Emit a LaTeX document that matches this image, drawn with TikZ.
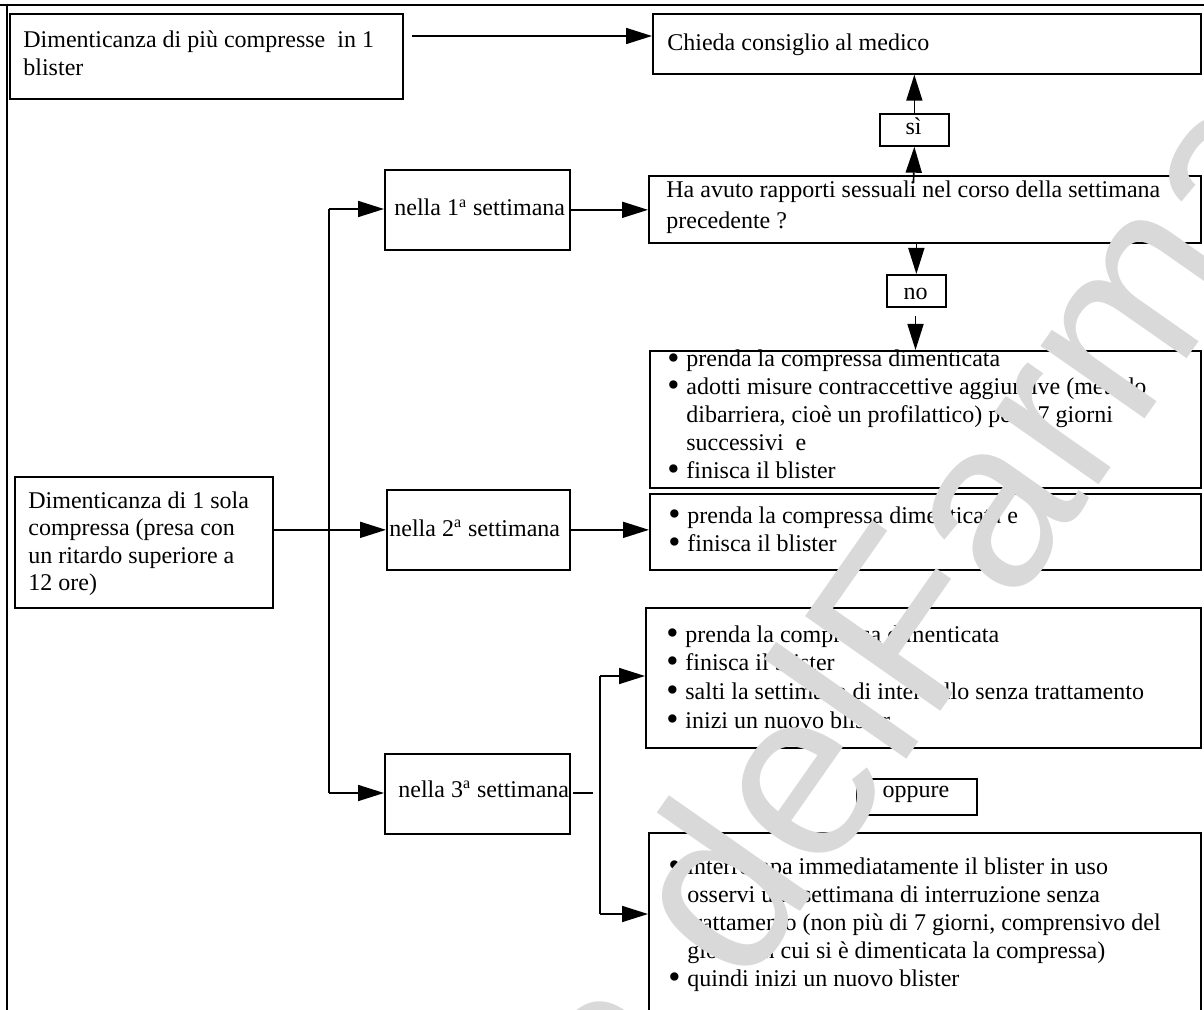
\documentclass[tikz,border=0pt]{standalone}
\usepackage{fontspec}
\usepackage{graphicx}
\setmainfont{Liberation Serif}
\newfontfamily\wmfont{Liberation Sans}
\usetikzlibrary{arrows.meta}
\newcommand\bul{\makebox[9.5pt][l]{\raisebox{-1.1pt}{\scalebox{1.45}{\textbullet}}}}
\newcommand\ind{\hspace*{9.5pt}}
\begin{document}
\begin{tikzpicture}[x=0.5pt,y=-0.5pt,
  box/.style={draw, line width=0.85pt, inner sep=0pt, anchor=north west},
  txt/.style={inner sep=0pt, anchor=base west},
  ctxt/.style={inner sep=0pt, anchor=base},
  wm/.style={inner sep=0pt, rotate=55, text=black!15, font=\wmfont\fontsize{120}{120}\selectfont},
  arr/.style={line width=0.85pt, -{Triangle[length=13pt,width=8pt]}},
  ln/.style={line width=0.85pt}]
\useasboundingbox (0,0) rectangle (1204,1010);
\clip (0,0) rectangle (1204,1010);
\fontsize{12}{13.8}\selectfont
% frame
\draw[line width=1pt] (0,5) -- (1204,5);
\draw[line width=0.7pt] (7,5) -- (7,1010);
% boxes
\node[box, minimum width=196.5pt, minimum height=42.5pt] (A) at (9,13) {};
\node[box, minimum width=274pt, minimum height=30pt] (B) at (652,13) {};
\node[box, minimum width=34.5pt, minimum height=16pt] (si) at (879,113) {};
\node[box, minimum width=92.5pt, minimum height=40pt] (n1) at (384,169) {};
\node[box, minimum width=276pt, minimum height=33.5pt] (Ha) at (648,175) {};
\node[box, minimum width=29.5pt, minimum height=16pt] (no) at (886,274) {};
\node[box, minimum width=275.5pt, minimum height=68.5pt] (b1) at (649,350) {};
\node[box, minimum width=129pt, minimum height=65.5pt] (sola) at (14,476) {};
\node[box, minimum width=91.5pt, minimum height=40pt] (n2) at (386,489) {};
\node[box, minimum width=275.5pt, minimum height=38pt] (b2) at (649,493) {};
\node[box, minimum width=277.5pt, minimum height=70pt] (b3) at (645,607) {};
\node[box, minimum width=60pt, minimum height=18pt] (opp) at (856,778) {};
\node[box, minimum width=92.5pt, minimum height=40pt] (n3) at (384,753) {};
\node[box, minimum width=276pt, minimum height=100pt] (b4) at (648,832) {};
% texts
\node[txt] (tA) at (23,48) {\fontsize{12}{14}\selectfont\begin{tabular}[t]{@{}l@{}}Dimenticanza di più compresse~ in 1\\blister\end{tabular}};
\node[txt] (tB) at (667,51) {Chieda consiglio al medico};
\node[ctxt] (tsi) at (913.5,135) {sì};
\node[txt] (tHa) at (666,198) {\fontsize{12}{15.3}\selectfont\begin{tabular}[t]{@{}l@{}}Ha avuto rapporti sessuali nel corso della settimana\\precedente ?\end{tabular}};
\node[ctxt] (tno) at (915.5,300) {no};
\node[txt] (tn1) at (394,216) {nella 1\textsuperscript{a} settimana};
\node[txt] (tn2) at (389,536) {nella 2\textsuperscript{a} settimana};
\node[txt] (tn3) at (398,797) {nella 3\textsuperscript{a} settimana};
\node[txt] (tsola) at (28,508) {\fontsize{12}{13.75}\selectfont\begin{tabular}[t]{@{}l@{}}Dimenticanza di 1 sola\\compressa (presa con\\un ritardo superiore a\\12 ore)\end{tabular}};
\node[txt] (tb1) at (667,367) {\fontsize{12}{13.9}\selectfont\begin{tabular}[t]{@{}l@{}}\bul prenda la compressa dimenticata\\\bul adotti misure contraccettive aggiuntive (metodo\\\ind dibarriera, cioè un profilattico) per i 7 giorni\\\ind successivi~ e\\\bul finisca il blister\end{tabular}};
\node[txt] (tb2) at (668,523) {\fontsize{12}{14}\selectfont\begin{tabular}[t]{@{}l@{}}\bul prenda la compressa dimenticata e\\\bul finisca il blister\end{tabular}};
\node[txt] (tb3) at (666,642) {\fontsize{12}{14.35}\selectfont\begin{tabular}[t]{@{}l@{}}\bul prenda la compressa dimenticata\\\bul finisca il blister\\\bul salti la settimana di intervallo senza trattamento\\\bul inizi un nuovo blister\end{tabular}};
\node[ctxt] (topp) at (916,797) {oppure};
\node[txt] (tb4) at (668,874) {\fontsize{12}{14}\selectfont\begin{tabular}[t]{@{}l@{}}\bul interrompa immediatamente il blister in uso\\\bul osservi una settimana di interruzione senza\\\ind trattamento (non più di 7 giorni, comprensivo del\\\ind giorno in cui si è dimenticata la compressa)\\\bul quindi inizi un nuovo blister\end{tabular}};
% connectors
\coordinate (a1) at (412,36);
\draw[arr] (a1) -- (a1 -| B.west);
\coordinate (hatop) at (913.5,183);
\draw[arr] (hatop) -- (si.south);
\draw[arr] (si.north) -- (si.north |- B.south);
\draw[arr] (Ha.south -| no.north) -- (no.north);
\coordinate (nobot) at (915.5,316);
\draw[arr] (nobot) -- (nobot |- b1.north);
\draw[arr] (n1.east) -- (n1.east -| Ha.west);
\coordinate (t1) at (329,209);
\coordinate (t3) at (329,793);
\draw[ln] (t1) -- (t3);
\draw[arr] (t1) -- (t1 -| n1.west);
\draw[arr] (t3) -- (t3 -| n3.west);
\draw[arr] (sola.east |- n2.west) -- (n2.west);
\draw[arr] (n2.east) -- (n2.east -| b2.west);
\coordinate (s1) at (573,793);
\coordinate (s2) at (593,793);
\draw[ln] (s1) -- (s2);
\coordinate (v1) at (600,676);
\coordinate (v2) at (600,914);
\draw[ln] (v1) -- (v2);
\draw[arr] (v1) -- (v1 -| b3.west);
\draw[arr] (v2) -- (v2 -| b4.west);
% watermark
\coordinate (wp) at (929,728);
\node[wm, anchor=base east] (wm1) at (wp) {liana del\ };
\node[wm, anchor=base west] (wm2) at (wp) {Farmaco};
\end{tikzpicture}
\end{document}
